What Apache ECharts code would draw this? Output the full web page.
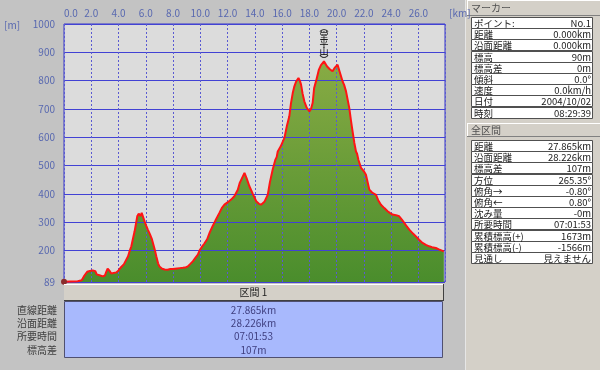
<!DOCTYPE html>
<html>
<head>
<meta charset="utf-8">
<script src="https://cdn.jsdelivr.net/npm/echarts@6/dist/echarts.min.js"></script>
<style>
  html, body { margin: 0; padding: 0; background: #c3c3c3; }
  #chart { width: 600px; height: 370px; }
</style>
</head>
<body>
<div id="chart"></div>
<script>
// profile: distance [km] / elevation [m]
const distKm = [
  0.0, 0.5, 1.0, 1.3, 1.5, 1.7, 1.9, 2.1, 2.3, 2.4, 2.6, 2.85, 3.0, 3.1, 3.2, 3.35, 3.47, 3.6, 3.84, 4.0,
  4.2, 4.3, 4.4, 4.57, 4.7, 4.8, 4.94, 5.05, 5.18, 5.3, 5.38, 5.44, 5.48, 5.55, 5.62, 5.7, 5.78, 5.91, 6.05, 6.15,
  6.22, 6.3, 6.45, 6.52, 6.65, 6.77, 6.9, 7.0, 7.2, 7.38, 7.6, 7.8, 7.99, 8.3, 8.5, 8.72, 8.9, 9.08, 9.25, 9.45,
  9.65, 9.82, 9.94, 10.1, 10.2, 10.3, 10.5, 10.7, 10.9, 11.0, 11.1, 11.4, 11.6, 11.77, 12.0, 12.1, 12.26, 12.5, 12.75, 12.9,
  13.05, 13.24, 13.4, 13.6, 13.85, 14.1, 14.3, 14.46, 14.7, 14.95, 15.1, 15.31, 15.5, 15.6, 15.68, 15.9, 16.17, 16.35, 16.53, 16.65,
  16.78, 16.9, 17.03, 17.2, 17.3, 17.39, 17.5, 17.63, 17.8, 18.0, 18.12, 18.24, 18.35, 18.5, 18.7, 18.85, 19.07, 19.2, 19.3, 19.5,
  19.7, 19.85, 20.07, 20.2, 20.44, 20.55, 20.69, 20.93, 21.05, 21.17, 21.3, 21.42, 21.5, 21.6, 21.79, 22.0, 22.15, 22.27, 22.4, 22.5,
  22.6, 22.89, 23.05, 23.25, 23.5, 23.74, 23.9, 24.1, 24.35, 24.59, 24.8, 24.96, 25.15, 25.33, 25.6, 25.82, 26.05, 26.3, 26.55, 26.79,
  27.0, 27.28, 27.5, 27.865
];
const elevM = [
  90, 91, 92, 95, 112, 125, 128, 130, 127, 116, 113, 109, 112, 125, 136, 128, 119, 118, 123, 130,
  142, 147, 152, 168, 180, 196, 215, 240, 268, 300, 322, 316, 330, 335, 322, 333, 330, 303, 285, 274,
  268, 258, 240, 233, 205, 180, 155, 144, 136, 133, 132, 135, 135, 137, 138, 139, 140, 144, 152, 162,
  175, 186, 200, 212, 218, 225, 240, 265, 286, 292, 305, 333, 352, 362, 370, 367, 380, 392, 415, 440,
  455, 474, 455, 427, 400, 374, 365, 362, 372, 397, 440, 486, 520, 530, 550, 568, 598, 640, 674, 720,
  756, 780, 797, 809, 800, 786, 755, 727, 705, 691, 700, 721, 774, 800, 839, 855, 868, 862, 850, 840,
  833, 845, 856, 835, 797, 785, 762, 703, 660, 621, 580, 550, 542, 520, 492, 480, 468, 470, 415, 418,
  405, 397, 378, 362, 350, 339, 333, 327, 325, 321, 308, 298, 285, 274, 260, 250, 238, 227, 220, 215,
  212, 209, 204, 197
];
const yTicks = [89, 200, 300, 400, 500, 600, 700, 800, 900, 1000];
const peakName = '堂平山';

const markerLabels = ['ポイント:', '距離', '沿面距離', '標高', '標高差', '傾斜', '速度', '日付', '時刻'];
const markerValues = ['No.1', '0.000km', '0.000km', '90m', '0m', '0.0°', '0.0km/h', '2004/10/02', '08:29:39'];
const totalLabels = ['距離', '沿面距離', '標高差', '方位', '俯角→', '俯角←', '沈み量', '所要時間', '累積標高(+)', '累積標高(-)', '見通し'];
const totalValues = ['27.865km', '28.226km', '107m', '265.35°', '-0.80°', '0.80°', '-0m', '07:01:53', '1673m', '-1566m', '見えません'];
const sectionName = '区間 1';
const sectionLabels = ['直線距離', '沿面距離', '所要時間', '標高差'];
const sectionValues = ['27.865km', '28.226km', '07:01:53', '107m'];

const FONT = '"Noto Sans CJK JP", "Noto Sans", sans-serif';
const AXIS_TXT = '#5868b0';

function txt(x, y, text, color, align, size) {
  return {
    type: 'text', x: x, y: y, z: 10,
    style: { text: text, fill: color, font: (size || 10) + 'px ' + FONT, textAlign: align || 'left', textVerticalAlign: 'middle' }
  };
}

function headerBar(y, h, label) {
  return [
    { type: 'rect', z: 9, shape: { x: 467, y: y, width: 140, height: h }, style: { fill: '#d4d0c8', stroke: null } },
    { type: 'line', z: 9, shape: { x1: 467, y1: y + 0.5, x2: 600, y2: y + 0.5 }, style: { stroke: '#ffffff', lineWidth: 1 } },
    { type: 'line', z: 9, shape: { x1: 467, y1: y + h + 0.5, x2: 600, y2: y + h + 0.5 }, style: { stroke: '#808080', lineWidth: 1 } },
    { type: 'line', z: 9, shape: { x1: 467.5, y1: y, x2: 467.5, y2: y + h }, style: { stroke: '#ffffff', lineWidth: 1 } },
    txt(471, y + h / 2 + 0.5, label, '#505050')
  ];
}

function table(top, labels, values) {
  const rowH = 11.2;
  const out = [];
  labels.forEach((lab, i) => {
    const y = Math.round(top + i * rowH) + 0.5;
    out.push({ type: 'rect', z: 9, shape: { x: 471.5, y: y, width: 121, height: Math.round(rowH) }, style: { fill: '#ffffff', stroke: '#505050', lineWidth: 1 } });
    out.push(txt(474, y + rowH / 2, lab, '#202020', 'left', 9.5));
    out.push(txt(591, y + rowH / 2, values[i], '#202020', 'right', 9.5));
  });
  return out;
}

function sectionBlock() {
  const out = [
    { type: 'rect', z: 9, shape: { x: 64, y: 284, width: 379, height: 17 }, style: { fill: '#d4d0c8', stroke: null } },
    { type: 'line', z: 9, shape: { x1: 64, y1: 284.5, x2: 443, y2: 284.5 }, style: { stroke: '#ffffff', lineWidth: 1 } },
    { type: 'line', z: 9, shape: { x1: 64, y1: 300.5, x2: 443, y2: 300.5 }, style: { stroke: '#404040', lineWidth: 1 } },
    { type: 'line', z: 9, shape: { x1: 443.5, y1: 284, x2: 443.5, y2: 301 }, style: { stroke: '#404040', lineWidth: 1 } },
    txt(253.5, 292.5, sectionName, '#202020', 'center'),
    { type: 'rect', z: 9, shape: { x: 64.5, y: 301.5, width: 378, height: 56 }, style: { fill: '#a8b9fd', stroke: '#505070', lineWidth: 1 } }
  ];
  sectionLabels.forEach((lab, i) => {
    const y = 310 + i * 13.3;
    out.push(txt(57, y, lab, '#404040', 'right'));
    out.push(txt(253.5, y, sectionValues[i], '#404080', 'center'));
  });
  return out;
}

let elem = document.getElementById('chart');
let myChart = echarts.init(elem, null, { renderer: 'canvas' });
const profile = distKm.map((d, i) => [d, elevM[i]]);

let graphics = [
  { type: 'rect', z: 8, shape: { x: 466, y: 0, width: 134, height: 370 }, style: { fill: '#d4d0c8' } },
  { type: 'line', z: 8, shape: { x1: 465.5, y1: 0, x2: 465.5, y2: 370 }, style: { stroke: '#e6e6e6', lineWidth: 1 } },
  txt(4, 25, '[m]', AXIS_TXT),
  txt(449, 13, '[km]', AXIS_TXT)
];
graphics = graphics
  .concat(headerBar(0, 15, 'マーカー'))
  .concat(table(17, markerLabels, markerValues))
  .concat(headerBar(123, 13, '全区間'))
  .concat(table(140, totalLabels, totalValues))
  .concat(sectionBlock());

let option = {
  backgroundColor: '#c3c3c3',
  animation: false,
  grid: {
    left: 64, top: 24, width: 381, height: 258,
    show: true, backgroundColor: '#dcdcdc', borderColor: '#3434c8', borderWidth: 1
  },
  xAxis: {
    type: 'value', position: 'top', min: 0, max: 27.95, interval: 2, z: 2,
    axisLine: { show: false }, axisTick: { show: false },
    axisLabel: {
      color: AXIS_TXT, fontSize: 10, fontFamily: FONT, margin: 6,
      showMaxLabel: false, alignMinLabel: 'left',
      formatter: v => v.toFixed(1)
    },
    splitLine: { show: true, lineStyle: { color: '#5a5ad2', width: 1, type: [2, 2] } }
  },
  yAxis: {
    type: 'value', min: 89, max: 1000, z: 2,
    axisLine: { show: false },
    axisTick: { show: false, customValues: yTicks },
    axisLabel: {
      color: AXIS_TXT, fontSize: 10, fontFamily: FONT, margin: 9, customValues: yTicks,
      formatter: v => String(v)
    },
    splitLine: { show: true, lineStyle: { color: '#4242d4', width: 1 } }
  },
  series: [
    {
      type: 'line', data: profile, z: 1, symbol: 'none',
      lineStyle: { width: 0 },
      areaStyle: {
        opacity: 1,
        color: new echarts.graphic.LinearGradient(0, 0, 0, 1, [
          { offset: 0, color: '#88ab44' },
          { offset: 1, color: '#4a8d2c' }
        ])
      }
    },
    {
      type: 'line', data: profile, z: 3, symbol: 'none',
      lineStyle: { color: '#ff1414', width: 2 },
      markPoint: {
        symbolSize: 0,
        data: [
          {
            type: 'max', name: peakName,
            label: {
              show: true, position: 'top', distance: -2,
              formatter: ['︵'].concat(peakName.split(''), ['︶']).join('\n'),
              color: '#000', fontSize: 9, lineHeight: 8, fontFamily: FONT
            }
          },
          { type: 'min', symbol: 'circle', symbolSize: 6, itemStyle: { color: '#8b2d2d' }, label: { show: false } }
        ]
      }
    }
  ],
  graphic: graphics
};

myChart.setOption(option);
</script>
</body>
</html>
